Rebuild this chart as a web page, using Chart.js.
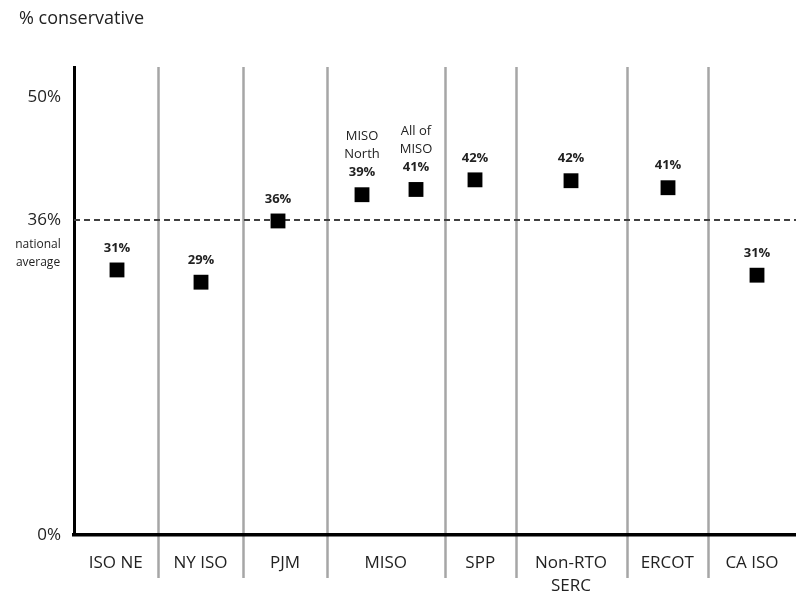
<!DOCTYPE html>
<html>
<head>
<meta charset="utf-8">
<script src="https://cdn.jsdelivr.net/npm/chart.js@4/dist/chart.umd.min.js"></script>
<style>
  html, body { margin: 0; padding: 0; background: #ffffff; }
  #wrap { width: 796px; height: 596px; position: relative; }
</style>
</head>
<body>
<div id="wrap"><canvas id="c" width="796" height="596"></canvas></div>
<script>
// ---- data ----
const regions = ['ISO NE', 'NY ISO', 'PJM', 'MISO', 'SPP', 'Non-RTO SERC', 'ERCOT', 'CA ISO'];
const regionLabelLines = [['ISO NE'], ['NY ISO'], ['PJM'], ['MISO'], ['SPP'], ['Non-RTO', 'SERC'], ['ERCOT'], ['CA ISO']];
const regionEdges = [0, 8.35, 16.95, 25.25, 37.1, 44.15, 55.25, 63.4, 72.2];
const pointNames = ['ISO NE', 'NY ISO', 'PJM', 'MISO North', 'All of MISO', 'SPP', 'Non-RTO SERC', 'ERCOT', 'CA ISO'];
const pointX = [4.3, 12.7, 20.4, 28.8, 34.2, 40.1, 49.7, 59.4, 68.3];
const pointValues = [30.3, 28.9, 35.9, 38.9, 39.5, 40.6, 40.5, 39.7, 29.7];
const valueLabels = ['31%', '29%', '36%', '39%', '41%', '42%', '42%', '41%', '31%'];
const subLabels = [null, null, null, ['MISO', 'North'], ['All of', 'MISO'], null, null, null, null];
const yTicks = [0, 36, 50];
const nationalAverage = 36;
const yMax = 53.5;
const yTitle = '% conservative';

const FONT = "'Open Sans', 'Liberation Sans', sans-serif";
const TEXT = '#222222';

const decor = {
  id: 'decor',
  beforeDraw(chart) {
    const ctx = chart.ctx, x = chart.scales.x, a = chart.chartArea;
    ctx.save();
    ctx.strokeStyle = '#a6a6a6';
    ctx.lineWidth = 2.5;
    for (let i = 1; i < regionEdges.length - 1; i++) {
      const px = Math.round(x.getPixelForValue(regionEdges[i])) + 0.5;
      ctx.beginPath();
      ctx.moveTo(px, a.top);
      ctx.lineTo(px, 578);
      ctx.stroke();
    }
    // title
    ctx.fillStyle = TEXT;
    ctx.font = "18px " + FONT;
    ctx.textAlign = 'left';
    ctx.textBaseline = 'middle';
    ctx.fillText(yTitle, 19, 19);
    // category labels
    ctx.font = "17px " + FONT;
    ctx.textAlign = 'center';
    for (let i = 0; i < regions.length; i++) {
      const cx = (x.getPixelForValue(regionEdges[i]) + x.getPixelForValue(regionEdges[i + 1])) / 2;
      regionLabelLines[i].forEach((ln, j) => ctx.fillText(ln, cx, 563 + j * 23));
    }
    // national average note
    const y = chart.scales.y;
    const ny = y.getPixelForValue(nationalAverage);
    ctx.font = "12px " + FONT;
    ctx.fillText('national', 38, ny + 24);
    ctx.fillText('average', 38, ny + 42);
    ctx.restore();
  },
  beforeDatasetsDraw(chart) {
    const ctx = chart.ctx, y = chart.scales.y, a = chart.chartArea;
    const py = Math.round(y.getPixelForValue(nationalAverage));
    ctx.save();
    ctx.strokeStyle = '#404040';
    ctx.lineWidth = 2;
    ctx.setLineDash([6, 4]);
    ctx.beginPath();
    ctx.moveTo(a.left, py);
    ctx.lineTo(a.right, py);
    ctx.stroke();
    ctx.restore();
  },
  afterDatasetsDraw(chart) {
    const ctx = chart.ctx;
    const meta = chart.getDatasetMeta(0);
    ctx.save();
    ctx.fillStyle = TEXT;
    ctx.textAlign = 'center';
    ctx.textBaseline = 'middle';
    meta.data.forEach((pt, i) => {
      const base = pt.y - 22;
      ctx.font = "bold 13px " + FONT;
      ctx.fillText(valueLabels[i], pt.x, base);
      if (subLabels[i]) {
        ctx.font = "13px " + FONT;
        const n = subLabels[i].length;
        subLabels[i].forEach((ln, j) => ctx.fillText(ln, pt.x, base - (n - j) * 18));
      }
    });
    ctx.restore();
  }
};

new Chart(document.getElementById('c'), {
  type: 'scatter',
  data: {
    datasets: [{
      label: yTitle,
      data: pointX.map((xv, i) => ({ x: xv, y: pointValues[i], name: pointNames[i] })),
      pointStyle: 'rect',
      radius: 10.5,
      hoverRadius: 10.5,
      backgroundColor: '#000000',
      borderColor: '#000000',
      borderWidth: 0
    }]
  },
  options: {
    responsive: false,
    animation: false,
    layout: { autoPadding: false, padding: { top: 67, right: 0, left: 0, bottom: 0 } },
    plugins: { legend: { display: false }, tooltip: { enabled: false } },
    scales: {
      x: {
        type: 'linear',
        min: regionEdges[0],
        max: regionEdges[regionEdges.length - 1],
        grid: { display: false, drawTicks: false },
        ticks: { display: false },
        border: { display: true, color: '#000000', width: 3.5 },
        afterFit(s) { s.height = 61; }
      },
      y: {
        min: 0,
        max: yMax,
        afterBuildTicks(s) { s.ticks = yTicks.map(v => ({ value: v })); },
        grid: { display: false, drawTicks: false },
        border: { display: true, color: '#000000', width: 3 },
        ticks: {
          padding: 13,
          color: TEXT,
          font: { family: FONT, size: 17 },
          callback: v => v + '%'
        },
        afterFit(s) { s.width = 74; }
      }
    }
  },
  plugins: [decor]
});
</script>
</body>
</html>
